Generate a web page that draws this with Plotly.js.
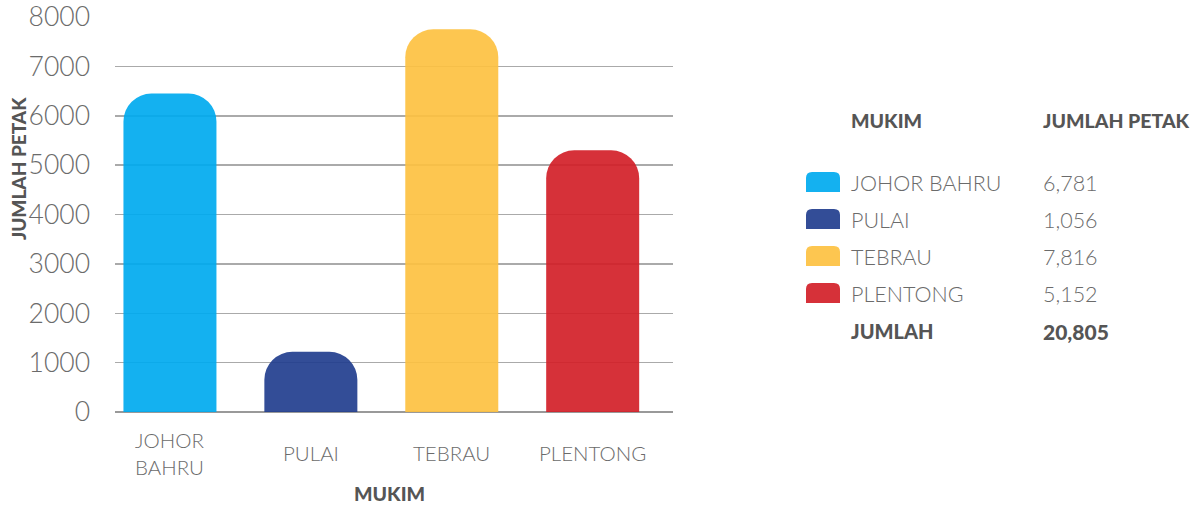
<!DOCTYPE html>
<html>
<head>
<meta charset="utf-8">
<script src="https://cdn.plot.ly/plotly-3.0.1.min.js"></script>
<style>html,body{margin:0;padding:0;background:#fff;}#chart{width:1200px;height:506px;}</style>
</head>
<body>
<div id="chart"></div>
<script>
// Data
const categories = ["JOHOR BAHRU", "PULAI", "TEBRAU", "PLENTONG"];
const tickLabels = ["JOHOR<br>BAHRU", "PULAI", "TEBRAU", "PLENTONG"];
const barValues = [6450, 1220, 7750, 5300];          // bar heights as drawn in the picture
const tableValues = ["6,781", "1,056", "7,816", "5,152"]; // values printed in the table
const totalLabel = "JUMLAH";
const totalValue = "20,805";
const colors = ["#00AAEF", "#223E8E", "#FDC141", "#D22028"];

// Layout geometry
const W = 1200, H = 506;
const M = {l: 115, r: 1200 - 673, t: 17, b: 506 - 412};
const pw = W - M.l - M.r, ph = H - M.t - M.b;
const px = x => (x - M.l) / pw;
const py = y => (H - M.b - y) / ph;

const FONT = "Lato, 'Open Sans', sans-serif";
const annotations = [];
const shapes = [];

// x category labels (centered vertically like the original)
categories.forEach((c, i) => {
  annotations.push({x: c, xref: 'x', y: py(453), yref: 'paper', text: tickLabels[i],
    showarrow: false, xanchor: 'center', yanchor: 'middle',
    font: {family: FONT, size: 20.5, color: '#6b6b6b', weight: 300}});
});
// axis titles
annotations.push({x: px(389), xref: 'paper', y: py(493), yref: 'paper', text: 'MUKIM',
  showarrow: false, xanchor: 'center', yanchor: 'middle',
  font: {family: FONT, size: 19.5, color: '#555', weight: 900}});
annotations.push({x: px(18), xref: 'paper', y: py(169), yref: 'paper', text: 'JUMLAH PETAK',
  textangle: -90, showarrow: false, xanchor: 'center', yanchor: 'middle',
  font: {family: FONT, size: 19, color: '#555', weight: 900}});

// table headers
const colA = 849, colB = 1041;
annotations.push({x: px(colA), xref: 'paper', y: py(121), yref: 'paper', text: 'MUKIM',
  showarrow: false, xanchor: 'left', yanchor: 'middle',
  font: {family: FONT, size: 19.5, color: '#555', weight: 900}});
annotations.push({x: px(colB), xref: 'paper', y: py(121), yref: 'paper', text: 'JUMLAH PETAK',
  showarrow: false, xanchor: 'left', yanchor: 'middle',
  font: {family: FONT, size: 19.5, color: '#555', weight: 900}});

const rowY0 = 183, rowStep = 37;
categories.forEach((c, i) => {
  const y = rowY0 + i * rowStep;
  annotations.push({x: px(colA), xref: 'paper', y: py(y), yref: 'paper', text: c,
    showarrow: false, xanchor: 'left', yanchor: 'middle',
    font: {family: FONT, size: 21.5, color: '#6b6b6b', weight: 300}});
  annotations.push({x: px(colB), xref: 'paper', y: py(y), yref: 'paper', text: tableValues[i],
    showarrow: false, xanchor: 'left', yanchor: 'middle',
    font: {family: FONT, size: 21.5, color: '#6b6b6b', weight: 300}});
  // swatch with rounded top corners
  const x0 = px(806), x1 = px(840), yb = py(y + 9), yt = py(y - 11);
  const rx = 6 / pw, ry = 6 / ph;
  shapes.push({type: 'path', xref: 'paper', yref: 'paper', fillcolor: colors[i], opacity: 0.92,
    line: {width: 0},
    path: `M ${x0} ${yb} L ${x0} ${yt - ry} Q ${x0} ${yt} ${x0 + rx} ${yt} L ${x1 - rx} ${yt} Q ${x1} ${yt} ${x1} ${yt - ry} L ${x1} ${yb} Z`});
});
const yTot = rowY0 + 4 * rowStep;
annotations.push({x: px(colA), xref: 'paper', y: py(yTot), yref: 'paper', text: totalLabel,
  showarrow: false, xanchor: 'left', yanchor: 'middle',
  font: {family: FONT, size: 20, color: '#555', weight: 900}});
annotations.push({x: px(colB), xref: 'paper', y: py(yTot), yref: 'paper', text: totalValue,
  showarrow: false, xanchor: 'left', yanchor: 'middle',
  font: {family: FONT, size: 21, color: '#555', weight: 900}});

const trace = {
  type: 'bar', x: categories, y: barValues, width: 0.66,
  marker: {color: colors, opacity: 0.92, cornerradius: 28, line: {width: 0}},
  hoverinfo: 'x+y'
};

const layout = {
  width: W, height: H,
  margin: M,
  paper_bgcolor: '#fff', plot_bgcolor: '#fff',
  showlegend: false,
  font: {family: FONT},
  xaxis: {type: 'category', range: [-0.39, 3.57], showticklabels: false, ticks: '',
    showgrid: false, zeroline: false, showline: false, fixedrange: true},
  yaxis: {range: [0, 8000], dtick: 1000, tick0: 0, showgrid: true, gridcolor: '#aaaaaa', gridwidth: 1.5,
    zeroline: true, zerolinecolor: '#999', zerolinewidth: 2.5, showline: false, ticks: '',
    ticklabelstandoff: 24,
    tickfont: {family: FONT, size: 26.5, color: '#6b6b6b', weight: 300}, fixedrange: true},
  annotations: annotations,
  shapes: shapes
};

Plotly.newPlot('chart', [trace], layout, {displayModeBar: false, staticPlot: true});
</script>
</body>
</html>
